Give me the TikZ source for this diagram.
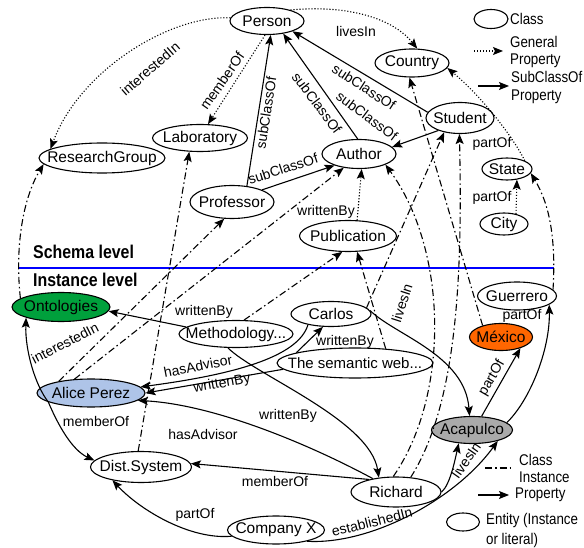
\documentclass[tikz,border=0pt]{standalone}
\usepackage{fontspec}
\setmainfont{Liberation Sans}
\newfontfamily\condfont[FakeStretch=0.86]{Liberation Sans}
\usetikzlibrary{shapes.geometric,arrows.meta}
\definecolor{ontgreen}{RGB}{0,160,60}
\definecolor{alicecol}{RGB}{174,196,232}
\definecolor{mexcol}{RGB}{255,102,0}
\definecolor{acacol}{RGB}{170,170,170}
\definecolor{sepblue}{RGB}{0,0,255}
\begin{document}
\begin{tikzpicture}[x=1pt,y=-1pt,
  ent/.style={ellipse,draw,line width=1.1pt,inner sep=0pt,font=\fontsize{15.5}{17}\selectfont},
  lbl/.style={inner sep=0pt,font=\fontsize{14}{16}\selectfont},
  myhead/.style={-{Stealth[length=10pt,width=8pt,inset=2pt]}},
  prop/.style={line width=1.1pt,myhead},
  gen/.style={line width=1.1pt,myhead,dash pattern=on 1.1pt off 1.9pt},
  inst/.style={line width=1.1pt,myhead,dash pattern=on 7pt off 3pt on 1.5pt off 3pt},
  instline/.style={line width=1.1pt,dash pattern=on 7pt off 3pt on 1.5pt off 3pt},
  leg/.style={anchor=west,align=left,inner sep=0pt,font=\condfont\fontsize{15.5}{17}\selectfont},
  lvl/.style={anchor=west,inner sep=0pt,font=\condfont\bfseries\fontsize{18.5}{20}\selectfont}]
\useasboundingbox (0,0) rectangle (584,548);

% ---------- schema nodes
\node[ent,minimum width=74pt,minimum height=27pt] (person) at (267,21) {\makebox[0pt]{Person}};
\node[ent,minimum width=95pt,minimum height=27pt] (lab) at (200,138) {\makebox[0pt]{Laboratory}};
\node[ent,minimum width=126pt,minimum height=30pt] (rg) at (102,158) {\makebox[0pt]{ResearchGroup}};
\node[ent,minimum width=74pt,minimum height=28pt] (country) at (412,63) {\makebox[0pt]{Country}};
\node[ent,minimum width=68pt,minimum height=31pt] (student) at (460,118) {\makebox[0pt]{Student}};
\node[ent,minimum width=74pt,minimum height=29pt] (author) at (359,154) {\makebox[0pt]{Author}};
\node[ent,minimum width=50pt,minimum height=22pt] (state) at (507,169) {\makebox[0pt]{State}};
\node[ent,minimum width=48pt,minimum height=22pt] (city) at (504,224) {\makebox[0pt]{City}};
\node[ent,minimum width=84pt,minimum height=33pt] (prof) at (232,202) {\makebox[0pt]{Professor}};
\node[ent,minimum width=97pt,minimum height=31pt] (pub) at (348,236) {\makebox[0pt]{Publication}};

% ---------- instance nodes
\node[ent,fill=ontgreen,minimum width=98pt,minimum height=29pt] (ont) at (61,307) {\makebox[0pt]{Ontologies}};
\node[ent,minimum width=114pt,minimum height=27pt] (meth) at (236,334) {\makebox[0pt]{Methodology...}};
\node[ent,minimum width=80pt,minimum height=25pt] (carlos) at (331,314) {\makebox[0pt]{Carlos}};
\node[ent,minimum width=156pt,minimum height=30pt] (sweb) at (355,363) {\makebox[0pt]{\fontsize{15}{17}\selectfont The semantic web...}};
\node[ent,fill=alicecol,minimum width=108pt,minimum height=28pt] (alice) at (91,393) {\makebox[0pt]{Alice Perez}};
\node[ent,minimum width=101pt,minimum height=31pt] (dist) at (141,467) {\makebox[0pt]{Dist.System}};
\node[ent,minimum width=97pt,minimum height=28pt] (company) at (276,530) {\makebox[0pt]{Company X}};
\node[ent,minimum width=90pt,minimum height=30pt] (richard) at (396,492) {\makebox[0pt]{Richard}};
\node[ent,fill=acacol,minimum width=81pt,minimum height=27pt] (acapulco) at (472,430) {\makebox[0pt]{Acapulco}};
\node[ent,fill=mexcol,minimum width=63pt,minimum height=27pt] (mexico) at (501,337) {\makebox[0pt]{México}};
\node[ent,minimum width=79pt,minimum height=28pt] (guerrero) at (517,296) {\makebox[0pt]{Guerrero}};

% ---------- level separator
\coordinate (sepL) at (19,268);
\coordinate (sepR) at (554,268);
\draw[sepblue,line width=2.4pt] (sepL) -- (sepR);
\node[lvl] (schemalvl) at (33,252) {Schema level};
\node[lvl] (instlvl) at (33,280) {Instance level};

% ---------- schema edges
\draw[gen] (person.175) .. controls (170,15) and (80,70) .. (rg.170);
\node[lbl,rotate=41] (l2) at (150,69) {interestedIn};
\draw[gen] (person.25) .. controls (340,5) and (390,15) .. (country.70);
\node[lbl] (l1) at (356,31) {livesIn};
\draw[gen] (person.262) -- (lab.60);
\node[lbl,rotate=55] (l3) at (222,81) {memberOf};
\draw[prop] (prof.47) -- (person.285);
\node[lbl,rotate=81] (l4) at (266,113) {subClassOf};
\draw[prop] (author.95) -- (person.322);
\node[lbl,rotate=-53] (l5) at (317,103) {subClassOf};
\draw[prop] (student.170) -- (person.338);
\node[lbl,rotate=-33] (l6) at (364,87) {subClassOf};
\draw[prop] (student.210) -- (author.12);
\node[lbl,rotate=-37] (l7) at (367,116) {subClassOf};
\draw[prop] (prof.22) -- (author.205);
\node[lbl,rotate=18] (l8) at (283,169) {subClassOf};
\draw[gen] (pub.60) -- (author.-80);
\node[lbl] (l9) at (326,212) {writtenBy};
\draw[gen] (city.40) -- (state.-47);
\node[lbl] (l10) at (492,198) {partOf};
\draw[gen] (state.25) .. controls (512,135) and (480,95) .. (country.-8);
\node[lbl] (l11) at (492,144) {partOf};

% ---------- instance edges
\draw[prop] (meth.172) -- (ont.-5);
\node[lbl] (l12) at (204,312) {writtenBy};
\draw[prop] (carlos.205) .. controls (298,358) and (230,375) .. (alice.7);
\node[lbl,rotate=11] (l13) at (198,366) {hasAdvisor};
\draw[prop] (sweb.185) -- (alice.0);
\node[lbl,rotate=10] (l14) at (222,384) {writtenBy};
\draw[prop] (sweb.170) -- (carlos.238);
\node[lbl] (l15) at (345,342) {writtenBy};
\draw[prop] (richard.150) .. controls (320,450) and (220,405) .. (alice.-9);
\node[lbl] (l16) at (203,434) {hasAdvisor};
\draw[prop] (meth.240) .. controls (255,375) and (370,420) .. (richard.140);
\node[lbl] (l17) at (288,416) {writtenBy};
\draw[prop] (richard.155) -- (dist.4);
\node[lbl] (l18) at (275,481) {memberOf};
\draw[prop] (alice.192) .. controls (58,425) and (72,450) .. (dist.172);
\node[lbl] (l19) at (96,421) {memberOf};
\draw[prop] (alice.192) .. controls (35,385) and (25,350) .. (ont.197);
\node[lbl,rotate=27] (l20) at (65,343) {interestedIn};
\draw[prop] (company.188) .. controls (190,540) and (140,510) .. (dist.205);
\node[lbl] (l21) at (195,515) {partOf};
\draw[prop] (company.-20) .. controls (370,545) and (455,500) .. (acapulco.-23);
\node[lbl,rotate=14] (l22) at (372,522) {establishedIn};
\draw[prop] (richard.east) .. controls (450,485) and (455,460) .. (acapulco.225);
\node[lbl,rotate=55] (l23) at (466,460) {livesIn};
\draw[prop] (carlos.5) .. controls (395,335) and (465,355) .. (acapulco.100);
\node[lbl,rotate=72] (l24) at (402,303) {livesIn};
\draw[prop] (acapulco.55) -- (mexico.-30);
\node[lbl,rotate=60] (l25) at (492,378) {partOf};
\draw[prop] (acapulco.12) .. controls (530,400) and (550,350) .. (guerrero.-15);
\node[lbl] (l26) at (522,316) {partOf};

% ---------- class-instance edges
\draw[inst] (ont.168) .. controls (15,250) and (22,200) .. (rg.186);
\draw[inst] (alice.160) -- (prof.245);
\draw[inst] (alice.140) -- (author.222);
\draw[inst] (meth.60) -- (pub.250);
\draw[inst] (dist.100) -- (lab.232);
\draw[inst] (carlos.10) -- (student.222);
\draw[inst] (sweb.25) -- (pub.-60);
\draw[inst] (richard.100) .. controls (450,395) and (448,250) .. (author.-22);
\draw[inst] (richard.45) .. controls (460,400) and (462,260) .. (student.268);
\draw[inst] (mexico.148) -- (country.260);
\draw[inst] (guerrero.10) .. controls (556,240) and (550,205) .. (state.-10);

% ---------- legend
\node[ent,minimum width=34pt,minimum height=19pt] (legclass) at (491,19) {};
\node[leg] (legclasst) at (510,19) {Class};
\coordinate (lga) at (474,51);
\coordinate (lgb) at (503,51);
\draw[gen] (lga) -- (lgb);
\node[leg] (leggen) at (510,52) {General\\Property};
\coordinate (lsa) at (478,86);
\coordinate (lsb) at (509,86);
\draw[prop] (lsa) -- (lsb);
\node[leg] (legsub) at (511,87) {SubClassOf\\[1pt]Property};
\coordinate (lia) at (485,468);
\coordinate (lib) at (510,468);
\draw[instline] (lia) -- (lib);
\node[leg] (leginst) at (519,468) {Class\\Instance};
\coordinate (lpa) at (478,495);
\coordinate (lpb) at (509,495);
\draw[prop] (lpa) -- (lpb);
\node[leg] (legprop) at (515,495) {Property};
\node[ent,minimum width=33pt,minimum height=18pt] (legent) at (463,522) {};
\node[leg] (legentt) at (486,530) {Entity (Instance\\[3pt]or literal)};
\end{tikzpicture}
\end{document}
